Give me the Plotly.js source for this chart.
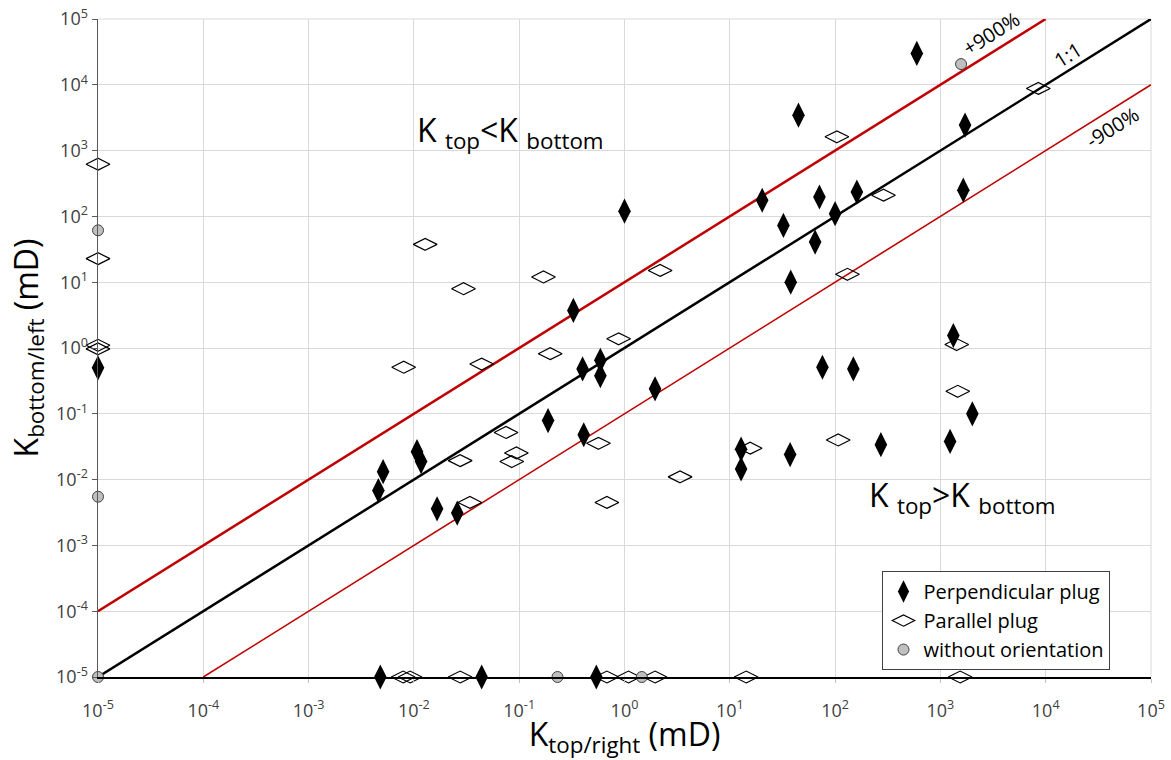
<!DOCTYPE html>
<html>
<head>
<meta charset="utf-8">
<script src="https://cdn.plot.ly/plotly-3.0.1.min.js"></script>
<style>html,body{margin:0;padding:0;background:#fff;}#chart{width:1171px;height:760px;}</style>
</head>
<body>
<div id="chart"></div>
<script>
// Perpendicular plug
const perpX = [1e-5, 0.0046, 0.0051, 0.0107, 0.0117, 0.0166, 0.0258, 0.188, 0.41, 0.327, 0.40, 0.59, 0.59, 1.95, 12.8, 12.8,
  597, 44.9, 1714, 1650, 32.3, 71, 100, 161, 64.6, 20.3, 1.0, 37.9, 1327, 75.8, 149, 2011, 37.4, 272, 1236,
  0.0048, 0.044, 0.54];
const perpY = [0.5, 0.0068, 0.0132, 0.0266, 0.0188, 0.0036, 0.0031, 0.079, 0.048, 3.72, 0.48, 0.65, 0.38, 0.24, 0.029, 0.0145,
  30000, 3460, 2440, 250, 73, 197, 110, 235, 40.7, 176, 120, 10, 1.55, 0.51, 0.48, 0.1, 0.024, 0.034, 0.038,
  1e-5, 1e-5, 1e-5];
// Parallel plug
const paraX = [1e-5, 1e-5, 1e-5, 1e-5, 0.0128, 104, 8510, 288, 0.0296, 0.17, 2.18, 0.88, 0.197, 0.044, 0.008,
  0.075, 0.094, 0.085, 0.0275, 0.566, 3.37, 15.6, 0.034, 0.68, 131, 1429, 1462, 107,
  0.0079, 0.0092, 0.0275, 0.68, 1.09, 1.95, 14.3, 1540];
const paraY = [621, 22.8, 1.1, 0.97, 37.6, 1620, 8800, 210, 7.96, 12, 15.1, 1.38, 0.82, 0.57, 0.51,
  0.052, 0.0254, 0.0188, 0.0194, 0.0356, 0.011, 0.03, 0.0045, 0.0045, 13.2, 1.13, 0.22, 0.04,
  1e-5, 1e-5, 1e-5, 1e-5, 1e-5, 1e-5, 1e-5, 1e-5];
// Without orientation
const noorX = [1e-5, 1e-5, 1e-5, 1571, 0.231, 1.46];
const noorY = [61.4, 0.0055, 1e-5, 20650, 1e-5, 1e-5];
// Reference lines
const lineOneX = [1e-5, 1e5];
const lineOneY = [1e-5, 1e5];
const linePlusX = [1e-5, 1e4];
const linePlusY = [1e-4, 1e5];
const lineMinusX = [1e-4, 1e5];
const lineMinusY = [1e-5, 1e4];
// Ticks
const tickVals = [1e-5, 1e-4, 1e-3, 1e-2, 1e-1, 1, 10, 100, 1e3, 1e4, 1e5];
const tickText = ['10<sup>-5</sup>','10<sup>-4</sup>','10<sup>-3</sup>','10<sup>-2</sup>','10<sup>-1</sup>','10<sup>0</sup>',
  '10<sup>1</sup>','10<sup>2</sup>','10<sup>3</sup>','10<sup>4</sup>','10<sup>5</sup>'];

const FONT = 'Open Sans, Liberation Sans, sans-serif';

const traces = [
  {x: lineMinusX, y: lineMinusY, mode: 'lines', line: {color: '#c00000', width: 1.6}, showlegend: false, hoverinfo: 'skip'},
  {x: linePlusX, y: linePlusY, mode: 'lines', line: {color: '#c00000', width: 2.5}, showlegend: false, hoverinfo: 'skip'},
  {x: lineOneX, y: lineOneY, mode: 'lines', line: {color: '#000000', width: 2.5}, showlegend: false, hoverinfo: 'skip'},
  {x: perpX, y: perpY, mode: 'markers', name: 'Perpendicular plug', cliponaxis: false,
   marker: {symbol: 'diamond-tall', size: 18, color: '#000000', line: {width: 0}}},
  {x: paraX, y: paraY, mode: 'markers', name: 'Parallel plug', cliponaxis: false,
   marker: {symbol: 'diamond-wide-open', size: 17, color: '#000000', line: {width: 1.2}}},
  {x: noorX, y: noorY, mode: 'markers', name: 'without orientation', cliponaxis: false,
   marker: {symbol: 'circle', size: 11, color: '#bfbfbf', line: {color: '#404040', width: 1}}}
];

const layout = {
  width: 1171, height: 760,
  margin: {l: 98, r: 20, t: 19, b: 83},
  paper_bgcolor: '#ffffff', plot_bgcolor: '#ffffff',
  font: {family: FONT, color: '#000000'},
  showlegend: true,
  legend: {x: 0.745, y: 0.161, xanchor: 'left', yanchor: 'top', bgcolor: '#ffffff',
    bordercolor: '#404040', borderwidth: 1, font: {family: FONT, size: 20, color: '#000'},
    tracegroupgap: 0, itemsizing: 'trace'},
  xaxis: {type: 'log', range: [-5, 5], tickmode: 'array', tickvals: tickVals, ticktext: tickText,
    showgrid: true, gridcolor: '#d9d9d9', gridwidth: 1, zeroline: false,
    showline: true, linecolor: '#000000', linewidth: 2, ticks: 'outside', ticklen: 4, tickcolor: '#bfbfbf',
    ticklabelstandoff: 12,
    tickfont: {family: FONT, size: 18, color: '#404040'},
    title: {text: 'K<sub>top/right</sub> (mD)', font: {family: FONT, size: 32, color: '#000'}, standoff: 2}},
  yaxis: {type: 'log', range: [-5, 5], tickmode: 'array', tickvals: tickVals, ticktext: tickText,
    showgrid: true, gridcolor: '#d9d9d9', gridwidth: 1, zeroline: false,
    showline: true, linecolor: '#595959', linewidth: 1.5, ticks: 'outside', ticklen: 5, tickcolor: '#595959',
    tickfont: {family: FONT, size: 18, color: '#404040'},
    title: {text: 'K<sub>bottom/left</sub> (mD)', font: {family: FONT, size: 32, color: '#000'}, standoff: 8}},
  shapes: [
    {type: 'line', xref: 'paper', yref: 'paper', x0: 0, x1: 1, y0: 1, y1: 1, line: {color: '#d9d9d9', width: 1}, layer: 'below'},
    {type: 'line', xref: 'paper', yref: 'paper', x0: 1, x1: 1, y0: 0, y1: 1, line: {color: '#d9d9d9', width: 1}, layer: 'below'}
  ],
  annotations: [
    {xref: 'paper', yref: 'paper', x: 0.3915, y: 0.828, xanchor: 'center', yanchor: 'middle',
     text: 'K <sub>top</sub>&lt;K <sub>bottom</sub>', showarrow: false,
     font: {family: FONT, size: 32, color: '#000'}},
    {xref: 'paper', yref: 'paper', x: 0.821, y: 0.2735, xanchor: 'center', yanchor: 'middle',
     text: 'K <sub>top</sub>&gt;K <sub>bottom</sub>', showarrow: false,
     font: {family: FONT, size: 32, color: '#000'}},
    {xref: 'paper', yref: 'paper', x: 0.848, y: 0.978, xanchor: 'center', yanchor: 'middle',
     text: '+900%', showarrow: false, textangle: -32,
     font: {family: FONT, size: 20, color: '#000'}},
    {xref: 'paper', yref: 'paper', x: 0.9214, y: 0.9453, xanchor: 'center', yanchor: 'middle',
     text: '1:1', showarrow: false, textangle: -32,
     font: {family: FONT, size: 20, color: '#000'}},
    {xref: 'paper', yref: 'paper', x: 0.963, y: 0.8347, xanchor: 'center', yanchor: 'middle',
     text: '-900%', showarrow: false, textangle: -32,
     font: {family: FONT, size: 20, color: '#000'}}
  ]
};

Plotly.newPlot('chart', traces, layout, {displayModeBar: false, staticPlot: true});
</script>
</body>
</html>
